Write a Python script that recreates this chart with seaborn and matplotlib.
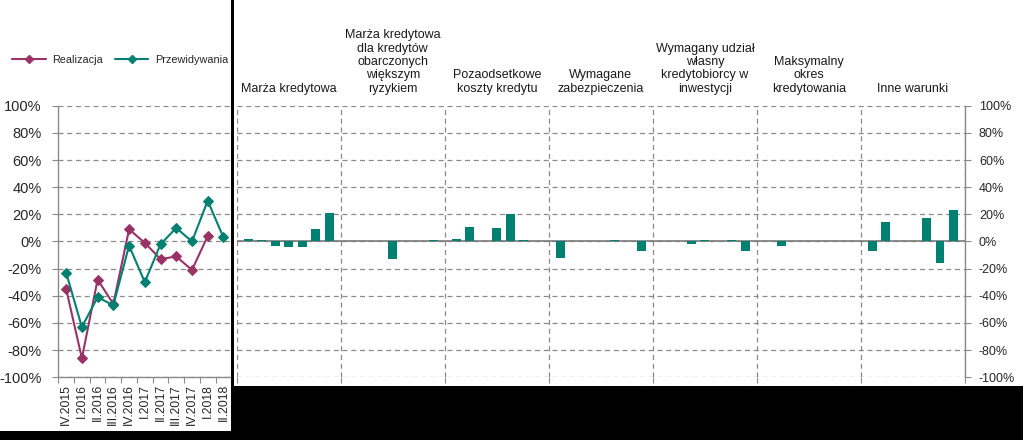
import numpy as np
import pandas as pd
import matplotlib
matplotlib.use("Agg")
import matplotlib.pyplot as plt
import matplotlib.transforms as mtransforms
from matplotlib.patches import Rectangle
from matplotlib.lines import Line2D
import seaborn as sns

# ---------------- data ----------------
quarters = ["IV.2015", "I.2016", "II.2016", "III.2016", "IV.2016", "I.2017",
            "II.2017", "III.2017", "IV.2017", "I.2018", "II.2018"]
realizacja = [-35, -86, -28, -46, 9, -1, -13, -11, -21, 4, np.nan]
przewidywania = [-23, -63, -41, -47, -3, -30, -2, 10, 0, 30, 3]

groups = [
    "Marża kredytowa",
    "Marża kredytowa\ndla kredytów\nobarczonych\nwiększym\nryzykiem",
    "Pozaodsetkowe\nkoszty kredytu",
    "Wymagane\nzabezpieczenia",
    "Wymagany udział\nwłasny\nkredytobiorcy w\ninwestycji",
    "Maksymalny\nokres\nkredytowania",
    "Inne warunki",
]
bar_periods = ["III.2016", "IV.2016", "I.2017", "II.2017", "III.2017", "IV.2017", "I.2018"]
marza = [2, 1, -3, -4, -4, 9, 21]
marza_ryzyko = [0, 0, 0, -13, 0, 0, 1]
pozaodsetkowe = [2, 10.5, 0, 10, 20, 1, 0]
zabezpieczenia = [-12.5, 0, 0, 0, 1, 0, -7]
udzial_wlasny = [0, 0, -1.5, 1, 0, 1, -7]
okres = [0, -3.5, 0, 0, 0, 0, 0]
inne = [-7, 14, 0, 0, 17, -16, 23.5]
group_values = [marza, marza_ryzyko, pozaodsetkowe, zabezpieczenia,
                udzial_wlasny, okres, inne]

yticks = list(range(-100, 101, 20))
ytick_labels = [f"{v}%" for v in yticks]

# ---------------- style ----------------
PURPLE = "#993366"
TEAL = "#008070"
GRID = "#8a8a8a"
SPINE = "#8a8a8a"

sns.set_theme(style="white")
plt.rcParams["font.family"] = ["Liberation Sans", "DejaVu Sans"]

W, H = 1023, 440
fig = plt.figure(figsize=(W / 100, H / 100), dpi=100)
fig.patch.set_facecolor("white")


def fx(px):
    return px / W


def fy(py):
    return 1 - py / H


top_px, bot_px = 105.7, 377.3
ax1 = fig.add_axes([fx(58.3), fy(bot_px), fx(231.3 - 58.3), (bot_px - top_px) / H])
ax2 = fig.add_axes([fx(236.7), fy(bot_px), fx(965 - 236.7), (bot_px - top_px) / H])

# ---------------- left panel: lines ----------------
df_left = pd.DataFrame({"idx": np.arange(len(quarters)),
                        "Realizacja": realizacja,
                        "Przewidywania": przewidywania})
sns.lineplot(data=df_left, x="idx", y="Realizacja", color=PURPLE, marker="D",
             markersize=5.5, markeredgecolor=PURPLE, linewidth=1.5, ax=ax1,
             legend=False, zorder=3)
sns.lineplot(data=df_left, x="idx", y="Przewidywania", color=TEAL, marker="D",
             markersize=5.5, markeredgecolor=TEAL, linewidth=1.5, ax=ax1,
             legend=False, zorder=4)

ax1.set_xlim(-0.5, len(quarters) - 0.5)
ax1.set_ylim(-100, 100)
ax1.set_xlabel("")
ax1.set_ylabel("")
ax1.set_yticks(yticks)
ax1.set_yticklabels(ytick_labels, fontsize=10.5)
ax1.set_xticks(np.arange(len(quarters)))
ax1.set_xticklabels(quarters, rotation=90, fontsize=8.8)
ax1.set_xticks(np.arange(-0.5, len(quarters)), minor=True)
ax1.tick_params(axis="x", which="major", length=0, pad=5)
ax1.tick_params(axis="x", which="minor", length=4, color=SPINE, width=0.8,
                direction="out", bottom=True)
ax1.tick_params(axis="y", length=4, color=SPINE, width=0.8, pad=8, left=True)
ax1.yaxis.grid(True, color=GRID, linestyle=(0, (4, 3)), linewidth=0.9)
ax1.xaxis.grid(False)
for s in ["top", "right"]:
    ax1.spines[s].set_visible(False)
for s in ["left", "bottom"]:
    ax1.spines[s].set_color(SPINE)
    ax1.spines[s].set_linewidth(1.0)
ax1.set_axisbelow(True)

# legend
handles = [Line2D([], [], color=PURPLE, marker="D", markersize=4.5, lw=1.5),
           Line2D([], [], color=TEAL, marker="D", markersize=4.5, lw=1.5)]
fig.legend(handles, ["Realizacja", "Przewidywania"], loc="center left",
           bbox_to_anchor=(fx(12), fy(60)), ncol=2, frameon=False,
           fontsize=7.8, handlelength=3.1, handletextpad=0.6,
           columnspacing=1.1, borderpad=0, borderaxespad=0)

# ---------------- right panel: grouped bars ----------------
GROUP_W = 7.7
OFFSET = 0.85
rows = []
for g, vals in enumerate(group_values):
    for i, v in enumerate(vals):
        rows.append({"pos": g * GROUP_W + OFFSET + i, "value": v,
                     "period": bar_periods[i], "group": g})
df_bars = pd.DataFrame(rows)

sns.barplot(data=df_bars, x="pos", y="value", native_scale=True, color=TEAL,
            saturation=1, width=0.66, errorbar=None, ax=ax2, zorder=3,
            linewidth=0, edgecolor="none")

ax2.set_xlim(0, GROUP_W * len(groups))
ax2.set_ylim(-100, 100)
ax2.set_xlabel("")
ax2.set_ylabel("")
ax2.set_xticks(df_bars["pos"].values)
ax2.set_xticklabels(df_bars["period"].values, rotation=90, fontsize=9)
ax2.set_xticks([g * GROUP_W for g in range(len(groups) + 1)], minor=True)
ax2.tick_params(axis="x", which="major", length=0, pad=4)
ax2.tick_params(axis="x", which="minor", length=4, color=SPINE, width=0.8,
                direction="out", bottom=True)
ax2.yaxis.tick_right()
ax2.set_yticks(yticks)
ax2.set_yticklabels(ytick_labels, fontsize=9)
ax2.tick_params(axis="y", length=4, color=SPINE, width=0.8, pad=6, right=True)
ax2.yaxis.grid(True, color=GRID, linestyle=(0, (4, 3)), linewidth=0.9)
ax2.xaxis.grid(True, which="minor", color=GRID, linestyle=(0, (4, 3)), linewidth=0.9)
ax2.xaxis.grid(False, which="major")
ax2.axhline(0, color="#7a7a7a", linewidth=1.2, zorder=2)
for s in ["top", "left", "bottom"]:
    ax2.spines[s].set_visible(False)
ax2.spines["right"].set_color(SPINE)
ax2.spines["right"].set_linewidth(1.0)
ax2.set_axisbelow(True)

trans = mtransforms.blended_transform_factory(ax2.transData, ax2.transAxes)
for g, name in enumerate(groups):
    ax2.text(g * GROUP_W + GROUP_W / 2, 1.04, name, transform=trans,
             ha="center", va="bottom", fontsize=9, linespacing=1.15,
             color="#1a1a1a")

# ---------------- black background areas of the reference ----------------
for (x0, y0, x1, y1) in [(231, 0, 234, 440), (231, 386, 1023, 440), (0, 431, 234, 440)]:
    fig.add_artist(Rectangle((fx(x0), fy(y1)), fx(x1 - x0), (y1 - y0) / H,
                             transform=fig.transFigure, facecolor="black",
                             edgecolor="none", zorder=10))

fig.savefig("out.png", dpi=100, facecolor="white")
